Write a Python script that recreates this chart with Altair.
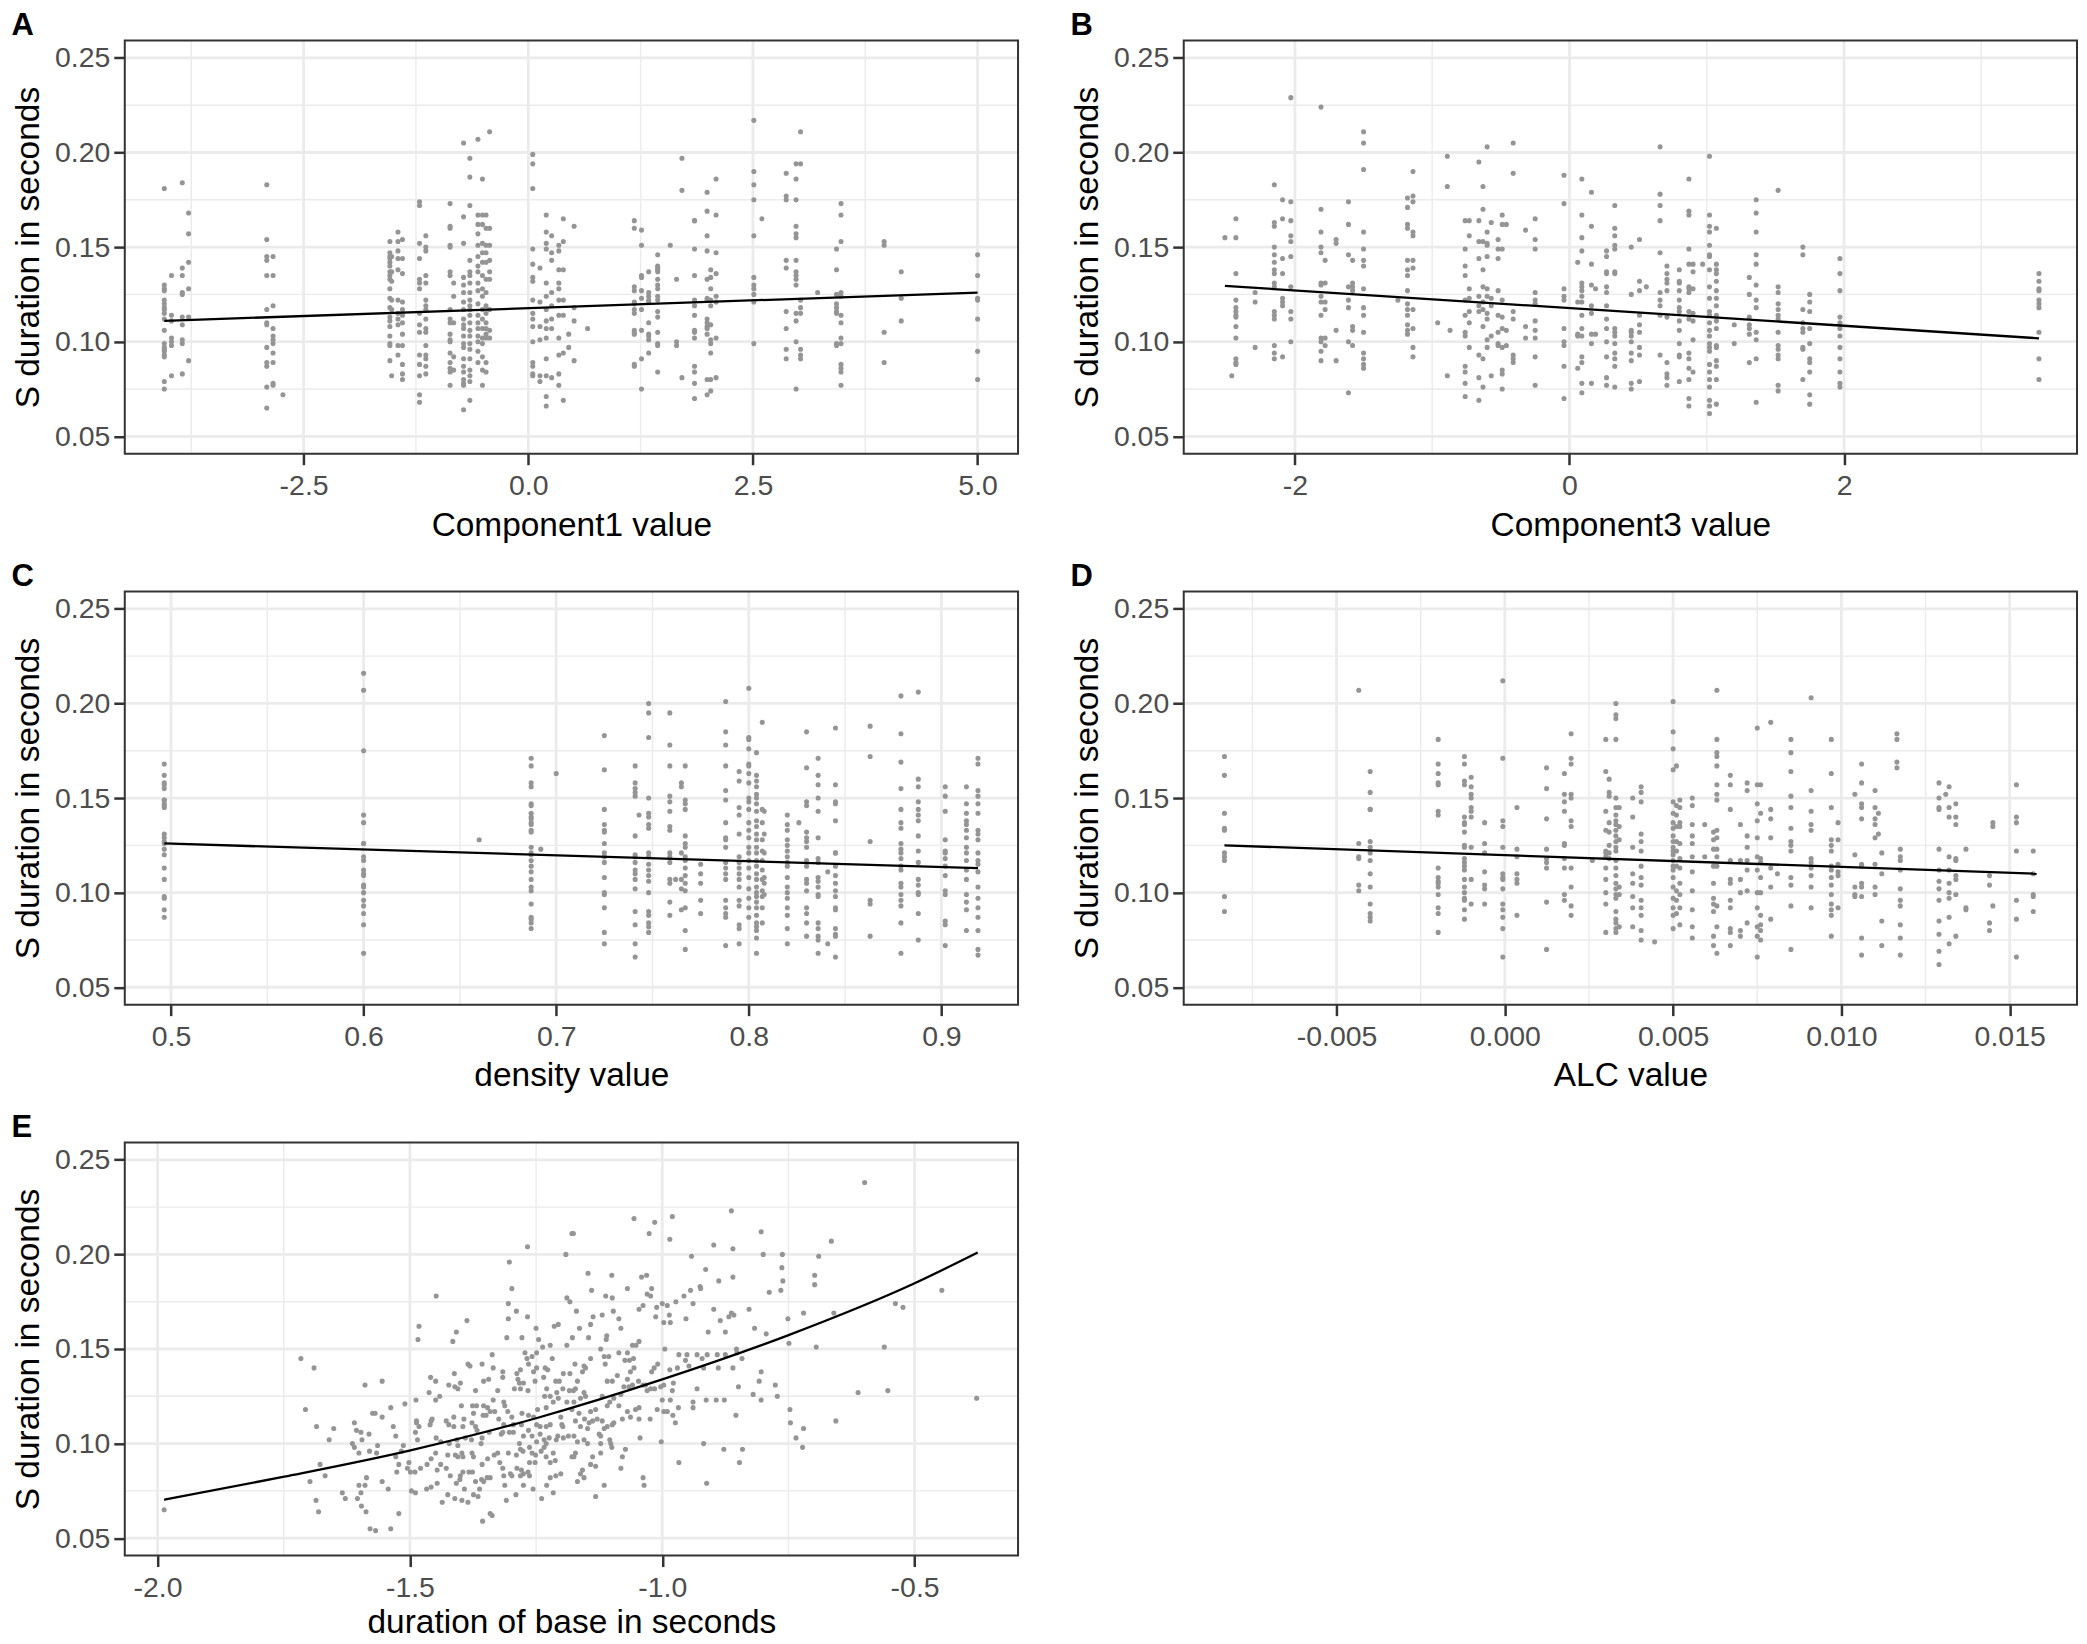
import altair as alt
import pandas as pd

FONT = "Liberation Sans"
Y_TITLE = "S duration in seconds"
Y_DOMAIN = [0.0408, 0.2592]
Y_MAJOR = [0.05, 0.10, 0.15, 0.20, 0.25]
Y_MINOR = [0.075, 0.125, 0.175, 0.225]

# ---------------- Panel A : Component1 value ----------------
A_X_DOMAIN = [-4.49, 5.45]
A_X_MAJOR = [-2.5, 0.0, 2.5, 5.0]
A_X_MINOR = [-3.75, -1.25, 1.25, 3.75]
A_COLS = [
    (-4.05, [.181,.130,.128,.127,.122,.120,.118,.117,.115,.112,.106,.099,.097,.096,.095,.093,.092,.079,.075]),
    (-3.97, [.135,.114,.111,.102,.100,.098,.082]),
    (-3.85, [.184,.139,.135,.126,.125,.113,.109,.101,.099,.083]),
    (-3.78, [.168,.157,.142,.128,.113,.090]),
    (-2.91, [.183,.154,.145,.143,.135,.117,.110,.109,.097,.089,.087,.076,.065]),
    (-2.84, [.145,.135,.119,.107,.103,.101,.099,.094,.089,.078,.077]),
    (-2.73, [.072]),
    (-1.54, [.153,.147,.145,.144,.142,.140,.137,.135,.133,.128,.123,.118,.113,.111,.108,.103,.099,.098,.090]),
    (-1.52, [.145,.137,.132,.122,.117,.082]),
    (-1.45, [.158,.153,.148,.144,.138,.122,.115,.112,.109,.098,.093]),
    (-1.40, [.154,.144,.136,.121,.117,.114,.110,.104,.098,.088,.083,.080]),
    (-1.21, [.174,.172,.152,.144,.133,.131,.128,.115,.109,.105,.093,.088,.082,.072,.068]),
    (-1.14, [.156,.150,.148,.135,.131,.122,.119,.117,.112,.107,.105,.098,.093,.091,.087,.083]),
    (-0.87, [.173,.161,.160,.151,.150,.137,.135,.117,.112,.110,.104,.101,.100,.094,.089,.086,.084,.077]),
    (-0.83, [.131,.124,.110,.092,.085]),
    (-0.72, [.205,.166,.152,.134,.130,.126,.121,.117,.112,.109,.107,.103,.099,.097,.091,.087,.084,.080,.078,.077,.064]),
    (-0.65, [.197,.187,.172,.143,.137,.135,.131,.126,.122,.119,.117,.114,.110,.106,.103,.099,.096,.091,.085,.082,.079,.069]),
    (-0.56, [.207,.167,.162,.157,.151,.145,.140,.137,.131,.127,.120,.114,.110,.107,.103,.100,.095,.089]),
    (-0.51, [.186,.167,.162,.152,.147,.142,.135,.128,.124,.117,.112,.107,.102,.099,.092,.085,.077]),
    (-0.47, [.167,.160,.151,.147,.142,.133,.126,.119,.115,.110,.107,.104,.102,.089,.084]),
    (-0.43, [.211,.160,.151,.143,.137,.133,.117,.106,.102]),
    (0.05, [.199,.194,.181,.149,.141,.134,.132,.122,.115,.112,.108,.100,.089,.087,.083,.082]),
    (0.13, [.139,.121,.108,.101,.082,.079]),
    (0.20, [.167,.158,.152,.149,.131,.124,.117,.111,.107,.102,.091,.082,.071,.066]),
    (0.26, [.156,.147,.143,.126,.119,.112,.107,.081]),
    (0.34, [.151,.148,.138,.131,.128,.122,.114,.102,.093,.083,.077]),
    (0.39, [.165,.153,.138,.122,.114,.094,.069]),
    (0.45, [.104,.097]),
    (0.51, [.161,.118,.111,.090]),
    (0.66, [.107]),
    (1.18, [.164,.160,.129,.127,.121,.120,.117,.115,.106,.105,.104,.088,.087]),
    (1.26, [.159,.151,.135,.134,.127,.123,.117,.106,.091,.075]),
    (1.34, [.137,.126,.124,.122,.121,.110,.104,.103,.101,.094]),
    (1.44, [.146,.140,.139,.138,.137,.133,.130,.128,.124,.122,.116,.113,.105,.099,.098,.084]),
    (1.58, [.151]),
    (1.65, [.133,.100,.098]),
    (1.71, [.197,.180,.081]),
    (1.85, [.164,.164,.149,.135,.122,.119,.114,.106,.105,.102,.087,.084,.078,.070]),
    (1.99, [.179,.169,.156,.148,.133,.123,.122,.112,.110,.108,.107,.104,.080,.072]),
    (2.03, [.138,.134,.128,.122,.119,.109,.101,.099,.094,.080,.074]),
    (2.09, [.186,.167,.147,.136,.124,.121,.102,.081]),
    (2.51, [.217,.190,.183,.175,.156,.134,.130,.128,.125,.121,.099]),
    (2.60, [.165]),
    (2.87, [.189,.177,.175,.143,.139,.116,.107,.096,.091]),
    (2.98, [.194,.186,.175,.161,.157,.155,.143,.137,.135,.133,.130,.115,.111,.100,.075]),
    (3.03, [.211,.194,.122,.118,.115,.096,.093,.091]),
    (3.22, [.126]),
    (3.43, [.149,.138,.125,.120,.118,.116,.115,.099,.098]),
    (3.48, [.173,.167,.153,.126,.124,.114,.110,.102,.099,.088,.086,.084,.077]),
    (3.96, [.153,.151,.105,.089]),
    (4.15, [.137,.123,.111]),
    (5.00, [.146,.135,.123,.122,.112,.095,.080]),
]
A_LINE_X = [-4.05, 5.00]
A_LINE_Y = [0.111, 0.126]

# ---------------- Panel B : Component3 value ----------------
B_X_DOMAIN = [-2.81, 3.697]
B_X_MAJOR = [-2, 0, 2]
B_X_MINOR = [-1, 1, 3]
B_COLS = [
    (-2.51, [.155]),
    (-2.46, [.082]),
    (-2.43, [.165,.155,.136,.122,.118,.116,.114,.113,.108,.102,.091,.089,.088]),
    (-2.29, [.126,.121,.097]),
    (-2.15, [.183,.163,.161,.150,.146,.142,.138,.136,.131,.129,.116,.114,.112,.098,.094,.091]),
    (-2.09, [.175,.165,.144,.136,.123,.121,.119,.092]),
    (-2.03, [.229,.174,.164,.156,.153,.145,.129,.116,.112,.100]),
    (-1.81, [.224,.170,.158,.150,.147,.131,.130,.124,.121,.114,.102,.100,.095,.090]),
    (-1.78, [.143,.131,.121,.117,.102,.098]),
    (-1.70, [.154,.152,.106,.090]),
    (-1.61, [.174,.162,.146,.129,.122,.118,.100,.073]),
    (-1.58, [.143,.131,.129,.127,.108,.106,.098]),
    (-1.50, [.211,.205,.191,.158,.149,.143,.140,.128,.118,.114,.105,.094,.091,.088,.086]),
    (-1.25, [.122]),
    (-1.18, [.176,.171,.162,.160,.143,.138,.135,.127,.120,.117,.114,.109,.106,.104]),
    (-1.14, [.190,.177,.174,.158,.156,.143,.139,.117,.107,.097,.092]),
    (-0.96, [.110]),
    (-0.89, [.198,.182,.082]),
    (-0.87, [.106]),
    (-0.76, [.164,.149,.140,.135,.122,.114,.105,.103,.087,.084,.078,.071]),
    (-0.73, [.164,.156,.128,.123,.116,.110,.097]),
    (-0.66, [.195,.164,.153,.144,.124,.119,.116,.093,.081,.069]),
    (-0.63, [.182,.170,.153,.138,.129,.121,.117,.108,.091,.076]),
    (-0.60, [.203,.158,.152,.151,.145,.128,.124,.115,.112,.101,.097]),
    (-0.57, [.163,.123,.119,.103,.082]),
    (-0.52, [.154,.149,.144,.127,.114,.105,.099,.098]),
    (-0.49, [.167,.162,.149,.122,.113,.107,.097,.085,.083,.075]),
    (-0.46, [.162,.106,.098]),
    (-0.41, [.205,.189,.116,.112,.093,.091,.089]),
    (-0.32, [.159,.108,.102]),
    (-0.25, [.165,.154,.149,.126,.122,.120,.111,.106,.102,.092,.077]),
    (-0.04, [.188,.173,.128,.124,.122,.107,.100,.098,.087,.070]),
    (0.06, [.142,.121,.104,.103,.086]),
    (0.09, [.186,.167,.155,.148,.131,.129,.127,.124,.121,.114,.107,.103,.092,.089,.078,.073]),
    (0.16, [.179,.161,.141,.130,.119,.115,.104,.099,.078]),
    (0.19, [.128,.104]),
    (0.27, [.148,.145,.137,.136,.129,.126,.119,.112,.107,.100,.092,.081,.077]),
    (0.33, [.172,.160,.156,.151,.149,.137,.136,.107,.105,.103,.099,.094,.091,.087,.076]),
    (0.45, [.150,.125,.106,.105,.103,.100,.094,.090,.078,.075]),
    (0.51, [.154,.132,.127,.114,.109,.105,.097,.093,.079]),
    (0.56, [.129]),
    (0.66, [.203,.178,.172,.164,.147,.126,.122,.119,.114,.093]),
    (0.71, [.140,.136,.133,.131,.127,.113,.089,.083,.081,.077]),
    (0.80, [.138,.132,.131,.127,.122,.118,.116,.111,.106,.099,.093,.092,.079]),
    (0.87, [.186,.169,.167,.149,.141,.129,.128,.126,.116,.112,.094,.091,.086,.080,.070,.066]),
    (0.90, [.141,.137,.128,.115,.111,.101,.084]),
    (0.97, [.141]),
    (1.02, [.198,.167,.161,.158,.151,.146,.145,.138,.129,.123,.116,.114,.110,.106,.103,.099,.097,.095,.088,.084,.080,.076,.069,.066,.062]),
    (1.07, [.160,.141,.138,.136,.132,.127,.123,.119,.114,.111,.107,.098,.097,.090,.087,.080,.067]),
    (1.20, [.109,.099]),
    (1.31, [.134,.125,.113,.109,.107,.104,.089]),
    (1.36, [.175,.168,.158,.146,.141,.130,.122,.118,.105,.101,.091,.068]),
    (1.52, [.180,.129,.126,.120,.117,.114,.112,.105,.098,.096,.093,.091,.077,.074]),
    (1.70, [.150,.146,.117,.110,.107,.105,.097,.096,.080]),
    (1.75, [.125,.121,.116,.107,.099,.091,.089,.084,.072,.067]),
    (1.97, [.144,.136,.127,.113,.110,.107,.103,.097,.091,.084,.078,.076]),
    (3.42, [.136,.132,.128,.127,.122,.120,.118,.105,.091,.080]),
]
B_LINE_X = [-2.51, 3.42]
B_LINE_Y = [0.1295, 0.1018]

# ---------------- Panel C : density value ----------------
C_X_DOMAIN = [0.476, 0.9398]
C_X_MAJOR = [0.5, 0.6, 0.7, 0.8, 0.9]
C_X_MINOR = [0.55, 0.65, 0.75, 0.85]
C_COLS = [
    (0.4965, [.168,.162,.158,.157,.155,.149,.149,.147,.146,.145,.131,.129,.127,.126,.123,.120,.113,.107,.098,.097,.091,.087]),
    (0.600, [.216,.207,.175,.141,.137,.126,.126,.119,.117,.112,.110,.109,.104,.103,.100,.096,.093,.089,.083,.068]),
    (0.660, [.128]),
    (0.687, [.171,.167,.158,.156,.147,.146,.142,.140,.139,.137,.136,.133,.132,.124,.121,.120,.117,.114,.111,.107,.103,.101,.094,.087,.086,.084,.081]),
    (0.692, [.123]),
    (0.700, [.163]),
    (0.725, [.183,.165,.144,.136,.133,.132,.126,.121,.119,.116,.108,.100,.099,.092,.079,.073]),
    (0.741, [.167,.158,.155,.153,.151,.130,.120,.119,.116,.112,.110,.107,.102,.090,.083,.073,.066]),
    (0.743, [.141]),
    (0.748, [.200,.195,.182,.150,.142,.140,.136,.134,.121,.119,.115,.112,.109,.106,.100,.090,.088,.084,.082,.079]),
    (0.759, [.195,.178,.167,.151,.148,.143,.135,.133,.121,.119,.116,.107,.105,.095,.088]),
    (0.762, [.107]),
    (0.765, [.158,.156,.121,.107,.102,.091]),
    (0.767, [.167,.149,.147,.144,.130,.126,.124,.119,.117,.113,.109,.105,.101,.092,.080,.070]),
    (0.775, [.115,.110,.105,.096,.089]),
    (0.788, [.201,.185,.178,.167,.154,.149,.137,.129,.128,.124,.116,.113,.110,.107,.096,.092,.089,.087,.072]),
    (0.795, [.164,.159,.145,.141,.131,.119,.116,.113,.110,.107,.103,.096,.093,.083,.081,.073]),
    (0.800, [.208,.182,.181,.176,.168,.167,.163,.158,.150,.148,.144,.137,.133,.129,.124,.121,.117,.113,.108,.102,.097,.092,.087]),
    (0.804, [.174,.162,.159,.156,.152,.150,.147,.143,.138,.135,.131,.128,.124,.121,.117,.114,.110,.107,.103,.100,.098,.095,.092,.088,.084,.082,.080,.076,.068]),
    (0.807, [.190,.144,.137,.128,.122,.117,.112,.107,.101,.098,.092,.084]),
    (0.808, [.143,.131,.121,.108,.105,.099]),
    (0.820, [.141,.136,.133,.128,.125,.122,.119,.116,.114,.108,.103,.100,.097,.092,.088,.081,.073]),
    (0.826, [.137]),
    (0.830, [.185,.166,.148,.146,.132,.129,.127,.124,.117,.114,.107,.105,.101,.092,.089,.084,.077]),
    (0.836, [.171,.162,.157,.150,.143,.129,.118,.116,.108,.106,.103,.099,.098,.084,.081,.077,.075,.068]),
    (0.841, [.111,.073]),
    (0.845, [.187,.157,.148,.147,.138,.121,.121,.114,.109,.105,.101,.098,.092,.091,.081,.078,.077,.066]),
    (0.863, [.188,.172,.127,.096,.094,.077]),
    (0.879, [.204,.184,.169,.155,.144,.137,.134,.126,.123,.121,.118,.114,.112,.105,.103,.099,.096,.093,.084,.068]),
    (0.888, [.206,.160,.156,.148,.144,.141,.138,.130,.122,.116,.107,.104,.100,.099,.089,.075]),
    (0.902, [.156,.151,.143,.128,.122,.121,.118,.114,.109,.101,.099,.085,.083,.072]),
    (0.913, [.156,.147,.142,.138,.136,.133,.129,.124,.121,.117,.112,.107,.099,.095,.091,.080]),
    (0.919, [.171,.168,.154,.151,.147,.142,.133,.131,.128,.121,.117,.115,.111,.103,.097,.092,.087,.080,.070,.067]),
]
C_LINE_X = [0.4965, 0.919]
C_LINE_Y = [0.126, 0.113]

# ---------------- Panel D : ALC value ----------------
D_X_DOMAIN = [-0.00954, 0.0170]
D_X_MAJOR = [-0.005, 0.0, 0.005, 0.010, 0.015]
D_X_MINOR = [-0.0075, -0.0025, 0.0025, 0.0075, 0.0125]
D_COLS = [
    (-0.00833, [.172,.162,.142,.134,.133,.121,.119,.117,.098,.090]),
    (-0.00434, [.207,.126,.119,.118,.104,.101]),
    (-0.00400, [.164,.153,.144,.144,.127,.124,.121,.117,.110,.103,.094,.089,.087,.085]),
    (-0.00198, [.181,.168,.163,.158,.157,.143,.141,.113,.108,.106,.105,.103,.099,.092,.089,.079]),
    (-0.00120, [.172,.168,.159,.157,.140,.137,.136,.132,.125,.124,.118,.116,.114,.112,.107,.103,.100,.097,.096,.091,.086]),
    (-0.00100, [.161,.156,.152,.150,.145,.143,.140,.124,.107,.094]),
    (-0.00060, [.137,.126,.121,.111,.104,.102,.094]),
    (-0.00006, [.212,.171,.138,.135,.124,.110,.108,.107,.102,.094,.091,.087,.081,.066]),
    (0.00036, [.145,.123,.119,.110,.107,.105,.088]),
    (0.00124, [.166,.155,.139,.123,.118,.116,.113,.095,.070]),
    (0.00177, [.163,.152,.148,.143,.126,.125,.118,.113,.099,.096]),
    (0.00197, [.184,.171,.168,.152,.150,.138,.135,.113,.103,.093,.088]),
    (0.00260, [.117]),
    (0.00300, [.181,.164,.143,.133,.122,.121,.119,.113,.107,.100,.094,.079]),
    (0.00310, [.160,.153,.151,.137,.132,.125,.121,.118]),
    (0.00330, [.200,.194,.192,.181,.150,.145,.141,.138,.136,.133,.130,.127,.124,.122,.117,.113,.109,.105,.102,.099,.097,.090,.086,.084,.081,.079]),
    (0.00340, [.145,.135,.128,.103,.099,.082]),
    (0.00380, [.150,.140,.124,.110,.105,.098,.092,.082]),
    (0.00405, [.156,.153,.148,.131,.127,.122,.114,.108,.104,.096,.092,.088,.080,.075]),
    (0.00445, [.074]),
    (0.00500, [.201,.185,.176,.165,.148,.142,.137,.134,.130,.127,.124,.122,.120,.117,.114,.112,.108,.103,.097,.092,.088,.081]),
    (0.00510, [.167,.146,.141,.135,.127,.122,.114,.101,.096,.089]),
    (0.00520, [.149,.145,.137,.135,.126,.118,.113,.105,.099,.092,.083]),
    (0.00557, [.150,.146,.136,.130,.126,.119,.111,.101,.091,.082,.076]),
    (0.00594, [.136,.119]),
    (0.00620, [.132,.128,.123,.114,.105,.097,.094,.090,.077,.072]),
    (0.00630, [.207,.181,.174,.172,.167,.157,.152,.149,.133,.129,.123,.119,.114,.093,.082,.068]),
    (0.00670, [.162,.157,.144,.117,.107,.105,.096,.092,.081,.079,.072]),
    (0.00700, [.136,.117,.107,.100,.080,.077]),
    (0.00720, [.158,.154,.130,.124,.117,.112,.101,.084]),
    (0.00750, [.187,.157,.147,.138,.129,.119,.112,.100,.092,.082,.077,.066]),
    (0.00760, [.157,.142,.118,.116,.108,.100,.088,.083,.080,.075]),
    (0.00790, [.190,.144,.139,.129,.113,.103,.086]),
    (0.00810, [.110]),
    (0.00850, [.181,.174,.164,.151,.145,.134,.127,.125,.122,.108,.104,.093,.070]),
    (0.00910, [.203,.154,.143,.136,.133,.118,.116,.113,.109,.103,.092]),
    (0.00970, [.181,.163,.145,.128,.125,.122,.114,.112,.108,.104,.099,.094,.091,.088,.077]),
    (0.00990, [.137,.128,.115,.111,.109,.092]),
    (0.01040, [.152,.120,.103,.099,.098]),
    (0.01060, [.168,.158,.147,.145,.139,.115,.114,.105,.103,.098,.076,.067]),
    (0.01100, [.154,.145,.139,.136,.129,.115,.103,.099]),
    (0.01110, [.142,.131]),
    (0.01120, [.121,.110,.085,.072]),
    (0.01165, [.184,.181,.169,.166]),
    (0.01175, [.123,.119,.117,.112,.102,.096,.093,.083,.076,.067]),
    (0.01290, [.158,.150,.145,.144,.123,.112,.106,.102,.096,.085,.078,.069,.062]),
    (0.01310, [.152]),
    (0.01320, [.156,.145,.140,.119,.112,.105,.100,.097,.087,.073]),
    (0.01340, [.147,.140,.136,.118,.117,.109,.107,.099,.077]),
    (0.01370, [.123,.092,.091]),
    (0.01440, [.109,.104,.084,.080]),
    (0.01450, [.137,.135,.093]),
    (0.01520, [.157,.140,.137,.122,.096,.086,.066]),
    (0.01570, [.122,.110,.099,.098,.090]),
]
D_LINE_X = [-0.00833, 0.0158]
D_LINE_Y = [0.125, 0.110]

# ---------------- Panel E : duration of base in seconds ----------------
E_X_DOMAIN = [-2.065, -0.295]
E_X_MAJOR = [-2.0, -1.5, -1.0, -0.5]
E_X_MINOR = [-1.75, -1.25, -0.75]
E_PTS = [
    (-1.987,.065),(-1.716,.145),(-1.690,.140),(-1.707,.118),(-1.685,.109),(-1.651,.108),(-1.660,.102),
    (-1.678,.089),(-1.668,.083),(-1.698,.080),(-1.686,.070),(-1.681,.064),(-1.589,.131),(-1.555,.133),
    (-1.574,.116),(-1.569,.116),(-1.555,.114),(-1.538,.119),(-1.610,.111),(-1.606,.107),(-1.597,.106),
    (-1.581,.105),(-1.614,.100),(-1.610,.098),(-1.595,.102),(-1.601,.095),(-1.580,.096),(-1.564,.099),
    (-1.566,.095),(-1.533,.109),(-1.528,.104),(-1.513,.099),(-1.517,.096),(-1.528,.093),(-1.522,.089),
    (-1.526,.085),(-1.586,.082),(-1.589,.078),(-1.601,.078),(-1.597,.074),(-1.604,.071),(-1.596,.067),
    (-1.587,.064),(-1.634,.074),(-1.628,.071),(-1.555,.080),(-1.543,.076),(-1.522,.063),(-1.579,.055),
    (-1.568,.054),(-1.538,.055),(-1.510,.121),(-1.488,.123),(-1.487,.112),(-1.487,.111),(-1.482,.109),
    (-1.489,.106),(-1.485,.102),(-1.462,.127),(-1.459,.135),(-1.449,.133),(-1.449,.123),(-1.441,.125),
    (-1.458,.112),(-1.460,.110),(-1.456,.113),(-1.448,.103),(-1.482,.162),(-1.484,.155),(-1.448,.178),
    (-1.387,.165),(-1.408,.159),(-1.415,.154),(-1.385,.142),(-1.381,.141),(-1.357,.142),(-1.412,.137),
    (-1.400,.132),(-1.423,.131),(-1.411,.130),(-1.405,.129),(-1.370,.128),(-1.354,.133),(-1.344,.134),
    (-1.337,.147),(-1.335,.140),(-1.316,.138),(-1.316,.135),(-1.326,.128),(-1.335,.123),(-1.314,.122),
    (-1.312,.120),(-1.306,.117),(-1.398,.120),(-1.376,.120),(-1.368,.120),(-1.354,.120),(-1.346,.119),
    (-1.341,.117),(-1.332,.117),(-1.374,.116),(-1.355,.115),(-1.349,.115),(-1.377,.111),(-1.370,.109),
    (-1.367,.107),(-1.393,.113),(-1.413,.114),(-1.428,.112),(-1.423,.110),(-1.413,.109),(-1.395,.109),
    (-1.324,.113),(-1.314,.110),(-1.298,.114),(-1.295,.110),(-1.319,.105),(-1.343,.106),(-1.357,.103),
    (-1.359,.100),(-1.378,.102),(-1.390,.103),(-1.407,.102),(-1.405,.099),(-1.422,.100),(-1.439,.101),
    (-1.449,.095),(-1.458,.092),(-1.466,.089),(-1.479,.087),(-1.490,.085),(-1.502,.090),(-1.499,.085),
    (-1.505,.087),(-1.497,.075),(-1.489,.074),(-1.467,.076),(-1.458,.077),(-1.446,.079),(-1.436,.069),
    (-1.425,.073),(-1.411,.071),(-1.397,.070),(-1.385,.069),(-1.374,.073),(-1.365,.072),(-1.362,.076),
    (-1.356,.059),(-1.341,.063),(-1.337,.062),(-1.383,.085),(-1.376,.085),(-1.370,.080),(-1.358,.081),
    (-1.354,.080),(-1.347,.082),(-1.341,.082),(-1.401,.081),(-1.400,.083),(-1.395,.085),(-1.392,.076),
    (-1.408,.079),(-1.420,.083),(-1.428,.087),(-1.439,.089),(-1.446,.086),(-1.425,.094),(-1.410,.094),
    (-1.405,.093),(-1.397,.095),(-1.395,.093),(-1.377,.095),(-1.374,.093),(-1.357,.089),(-1.346,.092),
    (-1.333,.094),(-1.326,.095),(-1.322,.090),(-1.316,.087),(-1.314,.083),(-1.305,.095),(-1.301,.084),
    (-1.312,.078),(-1.309,.070),(-1.290,.073),(-1.298,.083),(-1.281,.083),(-1.275,.084),(-1.266,.085),
    (-1.263,.083),(-1.288,.087),(-1.279,.086),(-1.289,.094),(-1.281,.097),(-1.276,.096),(-1.263,.098),
    (-1.258,.095),(-1.251,.094),(-1.263,.090),(-1.252,.090),(-1.240,.096),(-1.234,.098),(-1.230,.093),
    (-1.216,.095),(-1.222,.090),(-1.212,.091),(-1.222,.082),(-1.211,.083),(-1.201,.084),(-1.216,.074),
    (-1.229,.078),(-1.239,.071),(-1.256,.076),(-1.275,.078),(-1.283,.100),(-1.275,.104),(-1.265,.107),
    (-1.258,.104),(-1.249,.101),(-1.242,.105),(-1.234,.102),(-1.230,.100),(-1.224,.103),(-1.207,.104),
    (-1.196,.103),(-1.186,.104),(-1.199,.110),(-1.210,.102),(-1.267,.204),(-1.303,.196),(-1.298,.182),
    (-1.305,.174),(-1.305,.166),(-1.289,.170),(-1.267,.167),(-1.250,.161),(-1.308,.156),(-1.278,.156),
    (-1.245,.155),(-1.237,.151),(-1.222,.152),(-1.206,.163),(-1.214,.162),(-1.189,.177),(-1.183,.175),
    (-1.191,.200),(-1.179,.211),(-1.189,.152),(-1.272,.148),(-1.268,.145),(-1.258,.146),(-1.249,.148),
    (-1.218,.145),(-1.265,.142),(-1.281,.139),(-1.288,.137),(-1.286,.134),(-1.283,.132),(-1.275,.132),
    (-1.266,.128),(-1.255,.138),(-1.249,.140),(-1.232,.140),(-1.227,.139),(-1.235,.135),(-1.252,.133),
    (-1.293,.129),(-1.281,.129),(-1.211,.133),(-1.204,.133),(-1.196,.137),(-1.183,.137),(-1.184,.128),
    (-1.197,.129),(-1.209,.127),(-1.229,.129),(-1.222,.125),(-1.233,.125),(-1.206,.124),(-1.216,.122),
    (-1.230,.119),(-1.247,.118),(-1.189,.122),(-1.176,.128),(-1.179,.118),(-1.201,.114),(-1.197,.109),
    (-1.222,.110),(-1.230,.109),(-1.242,.109),(-1.249,.110),(-1.255,.114),(-1.265,.115),(-1.279,.110),
    (-1.295,.106),(-1.303,.106),(-1.316,.106),(-1.278,.116),(-1.179,.093),
    (-0.599,.238),(-0.863,.223),(-0.980,.220),(-1.056,.219),(-1.015,.217),(-1.026,.211),(-1.176,.211),
    (-0.804,.212),(-0.985,.208),(-0.898,.205),(-0.860,.203),(-0.665,.207),(-0.800,.200),(-0.762,.200),
    (-0.690,.199),(-0.942,.199),(-0.763,.193),(-0.914,.192),(-0.698,.189),(-1.041,.188),(-1.031,.189),
    (-1.100,.189),(-1.147,.190),(-0.888,.186),(-0.860,.188),(-0.761,.186),(-0.698,.184),(-0.446,.181),
    (-1.021,.182),(-1.030,.179),(-1.023,.178),(-0.944,.181),(-0.925,.183),(-0.924,.182),(-1.069,.182),
    (-1.140,.181),(-1.099,.177),(-1.112,.178),(-0.788,.180),(-0.765,.181),(-0.957,.178),(-0.939,.174),
    (-0.973,.175),(-1.000,.174),(-0.990,.173),(-1.011,.172),(-1.046,.171),(-1.038,.173),(-1.170,.170),
    (-1.097,.170),(-1.119,.168),(-1.137,.167),(-1.142,.163),(-1.086,.166),(-1.082,.161),(-1.013,.167),
    (-0.997,.164),(-0.984,.164),(-0.986,.168),(-0.953,.166),(-0.898,.171),(-0.885,.165),(-0.868,.167),
    (-0.863,.169),(-0.858,.168),(-0.828,.171),(-0.720,.169),(-0.660,.169),(-0.538,.174),(-0.523,.172),
    (-0.751,.166),(-0.817,.161),(-0.909,.159),(-0.875,.159),(-0.794,.158),(-1.164,.161),(-1.146,.156),
    (-1.110,.157),(-1.111,.155),(-1.178,.156),(-1.059,.152),(-1.046,.154),(-1.069,.148),(-1.122,.150),
    (-1.086,.148),(-1.106,.146),(-1.115,.146),(-1.142,.145),(-1.155,.141),(-1.173,.142),(-1.158,.138),
    (-1.152,.140),(-1.168,.133),(-1.172,.129),(-1.155,.127),(-1.152,.125),(-1.162,.124),(-1.175,.122),
    (-1.142,.117),(-1.132,.118),(-1.119,.112),(-1.129,.113),(-1.138,.112),(-1.145,.111),(-1.154,.113),
    (-1.165,.116),(-1.172,.112),(-1.162,.109),(-1.148,.108),(-1.175,.104),(-1.168,.101),(-1.155,.102),
    (-1.172,.095),(-1.175,.093),(-1.148,.100),(-1.122,.100),(-1.138,.093),(-1.142,.089),(-1.132,.088),
    (-1.122,.095),(-1.158,.086),(-1.162,.084),(-1.168,.080),(-1.155,.082),(-1.132,.072),(-1.115,.078),
    (-1.082,.087),(-1.079,.093),(-1.073,.097),(-1.100,.098),(-1.104,.102),(-1.125,.105),(-1.109,.109),
    (-1.099,.110),(-1.096,.111),(-1.079,.113),(-1.063,.114),(-1.069,.117),(-1.053,.118),(-1.046,.119),
    (-1.046,.113),(-1.044,.103),(-1.024,.113),(-1.010,.118),(-0.997,.117),(-0.990,.117),(-1.002,.101),
    (-1.038,.082),(-1.036,.078),(-0.967,.090),(-0.974,.111),(-0.968,.119),(-0.939,.119),(-0.939,.122),
    (-0.984,.123),(-1.000,.123),(-0.978,.132),(-0.980,.128),(-0.997,.131),(-1.003,.130),(-1.015,.129),
    (-1.023,.129),(-1.030,.128),(-1.038,.131),(-1.047,.133),(-1.059,.131),(-1.066,.130),(-1.076,.130),
    (-1.082,.126),(-1.096,.124),(-1.104,.122),(-1.109,.120),(-1.086,.120),(-1.119,.125),(-1.109,.133),
    (-1.099,.133),(-1.089,.136),(-1.069,.134),(-1.056,.140),(-1.021,.138),(-1.016,.140),(-1.009,.142),
    (-0.985,.139),(-0.970,.140),(-0.967,.147),(-0.951,.147),(-0.931,.147),(-0.921,.145),(-0.911,.147),
    (-0.891,.147),(-0.875,.147),(-0.852,.148),(-0.842,.145),(-0.853,.150),(-0.860,.140),(-0.889,.140),
    (-0.918,.140),(-0.947,.141),(-0.954,.144),(-0.931,.129),(-0.913,.123),(-0.893,.123),(-0.877,.123),
    (-0.918,.100),(-0.878,.097),(-0.847,.090),(-0.912,.079),(-0.979,.115),(-0.854,.115),(-0.841,.097),
    (-0.849,.130),(-0.820,.126),(-0.804,.138),(-0.808,.133),(-0.804,.123),(-0.776,.131),(-0.772,.125),
    (-0.749,.153),(-0.747,.118),(-0.746,.111),(-0.735,.103),(-0.720,.108),(-0.722,.098),(-0.695,.151),
    (-0.656,.112),(-0.612,.127),(-0.560,.151),(-0.553,.128),(-0.377,.124),(-0.995,.150),(-1.057,.145),
    (-1.065,.144),(-1.033,.131),(-1.052,.152),(-1.113,.142),(-1.115,.108),(-1.102,.100),(-1.122,.104),
    (-1.063,.138),(-1.074,.144),
]
E_LINE_X = [-1.987, -1.749, -1.501, -1.250, -1.000, -0.751, -0.501, -0.375]
E_LINE_Y = [0.0703, 0.0825, 0.0963, 0.1134, 0.1339, 0.1572, 0.1846, 0.2010]

# ---------------- styling ----------------
W, H = 895, 414
GRID = "#ebebeb"
POINT = "#959595"
DARK = "#333333"


def cols_frame(cols):
    return pd.DataFrame([(x, y) for x, ys in cols for y in ys], columns=["x", "y"])


def panel(tag, pts, lx, ly, xtitle, xdom, xmaj, xmin, xfmt, smooth=False, xtitle_pad=9):
    xsc = alt.Scale(domain=xdom, nice=False, zero=False)
    ysc = alt.Scale(domain=Y_DOMAIN, nice=False, zero=False)
    xax = alt.Axis(values=xmaj, title=xtitle, grid=False, titlePadding=xtitle_pad,
                   labelExpr="replace(format(datum.value, '" + xfmt + "'), '\u2212', '-')")
    yax = alt.Axis(values=Y_MAJOR, title=Y_TITLE, grid=False, format=".2f")

    def X(f):
        return alt.X(f, scale=xsc, axis=xax)

    def Y(f):
        return alt.Y(f, scale=ysc, axis=yax)

    gy_min = alt.Chart(pd.DataFrame({"v": Y_MINOR})).mark_rule(color=GRID, strokeWidth=1.4).encode(y=Y("v:Q"))
    gx_min = alt.Chart(pd.DataFrame({"v": xmin})).mark_rule(color=GRID, strokeWidth=1.4).encode(x=X("v:Q"))
    gy_maj = alt.Chart(pd.DataFrame({"v": Y_MAJOR})).mark_rule(color=GRID, strokeWidth=2.8).encode(y=Y("v:Q"))
    gx_maj = alt.Chart(pd.DataFrame({"v": xmaj})).mark_rule(color=GRID, strokeWidth=2.8).encode(x=X("v:Q"))
    dots = alt.Chart(pts).mark_circle(size=26, color=POINT, opacity=1).encode(x=X("x:Q"), y=Y("y:Q"))
    line = alt.Chart(pd.DataFrame({"x": lx, "y": ly})).mark_line(
        color="black", strokeWidth=2.3, interpolate=("monotone" if smooth else "linear")
    ).encode(x=X("x:Q"), y=Y("y:Q"))
    frame = alt.Chart(pd.DataFrame({"f": [0]})).mark_rect(filled=False, stroke=DARK, strokeWidth=2).encode(
        x=alt.value(0), x2=alt.value(W), y=alt.value(0), y2=alt.value(H))
    return alt.layer(gy_min, gx_min, gy_maj, gx_maj, dots, line, frame).properties(
        width=W, height=H,
        title=alt.TitleParams(tag, anchor="start", frame="bounds", fontSize=31, fontWeight="bold",
                              font=FONT, color="black", offset=-3))


pA = panel("A", cols_frame(A_COLS), A_LINE_X, A_LINE_Y, "Component1 value",
           A_X_DOMAIN, A_X_MAJOR, A_X_MINOR, ".1f")
pB = panel("B", cols_frame(B_COLS), B_LINE_X, B_LINE_Y, "Component3 value",
           B_X_DOMAIN, B_X_MAJOR, B_X_MINOR, ".0f")
pC = panel("C", cols_frame(C_COLS), C_LINE_X, C_LINE_Y, "density value",
           C_X_DOMAIN, C_X_MAJOR, C_X_MINOR, ".1f")
pD = panel("D", cols_frame(D_COLS), D_LINE_X, D_LINE_Y, "ALC value",
           D_X_DOMAIN, D_X_MAJOR, D_X_MINOR, ".3f")
pE = panel("E", pd.DataFrame(E_PTS, columns=["x", "y"]), E_LINE_X, E_LINE_Y, "duration of base in seconds",
           E_X_DOMAIN, E_X_MAJOR, E_X_MINOR, ".1f", smooth=True, xtitle_pad=5)

row1 = alt.hconcat(pA, pB, spacing=50)
row2 = alt.hconcat(pC, pD, spacing=50)
chart = alt.vconcat(row1, row2, pE, spacing=19).properties(
    padding={"left": 3, "top": 0, "right": 0, "bottom": 0},
    background="white",
).configure_axis(
    labelFont=FONT, titleFont=FONT, labelFontSize=28.5, titleFontSize=33.5,
    labelColor="#4d4d4d", titleColor="black", titleFontWeight="normal",
    tickColor=DARK, tickWidth=2.5, tickSize=11, domain=False
).configure_axisX(labelPadding=7).configure_axisY(
    labelPadding=4, titlePadding=9
).configure_title(fontSize=31, fontWeight="bold", font=FONT
).configure_view(stroke=None)

chart.save("out.html", embed_options={"renderer": "svg", "actions": False})
